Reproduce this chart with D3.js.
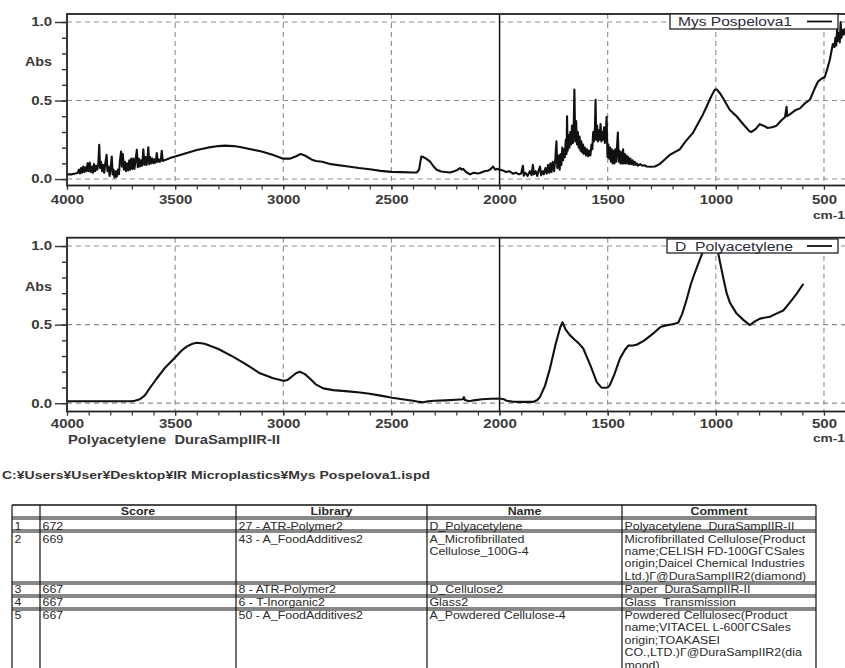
<!DOCTYPE html>
<html><head><meta charset="utf-8">
<script src="https://cdn.jsdelivr.net/npm/d3@7"></script>
<style>
body{margin:0;background:#fff}
svg{display:block;font-family:"Liberation Sans",Arial,sans-serif}
svg text{white-space:pre}
</style></head>
<body><svg id="c" width="845" height="668"></svg>
<script>
// ---------------- data ----------------
const xMajorTicks = [4000, 3500, 3000, 2500, 2000, 1500, 1000, 500];
const xGridTicks = [3500, 3000, 2500, 1500, 1000, 500];
const yMajorTicks = [0, 0.5, 1.0];

const sampleName = "Mys Pospelova1";
const referenceName = "D  Polyacetylene";
const referenceCaption = "Polyacetylene  DuraSampIIR-II";
const filePath = "C:¥Users¥User¥Desktop¥IR Microplastics¥Mys Pospelova1.ispd";

// measured sample spectrum [wavenumber, absorbance]
const sampleSpectrum = [
 [4000,0.03],[3980,0.03],[3960,0.035],[3950,0.04],[3945,0.06],[3940,0.035],[3935,0.07],[3930,0.04],
 [3925,0.08],[3920,0.045],[3915,0.075],[3910,0.05],[3905,0.1],[3900,0.05],[3895,0.105],[3890,0.045],
 [3885,0.08],[3880,0.04],[3875,0.095],[3870,0.05],[3865,0.085],[3860,0.06],[3855,0.1],[3851,0.218],
 [3847,0.07],[3843,0.11],[3838,0.05],[3833,0.09],[3828,0.04],[3823,0.1],[3817,0.155],[3813,0.05],
 [3808,0.08],[3803,0.02],[3798,0.07],[3793,0.144],[3789,0.03],[3785,0.06],[3780,0.01],[3775,0.05],
 [3770,0.015],[3765,0.06],[3760,0.03],[3755,0.12],[3750,0.175],[3746,0.08],[3742,0.16],[3737,0.06],
 [3732,0.11],[3727,0.05],[3722,0.1],[3717,0.055],[3712,0.12],[3708,0.06],[3703,0.13],[3698,0.065],
 [3693,0.13],[3688,0.065],[3683,0.12],[3677,0.186],[3673,0.075],[3668,0.13],[3663,0.08],[3658,0.12],
 [3653,0.085],[3650,0.13],[3647,0.19],[3642,0.09],[3637,0.14],[3632,0.09],[3627,0.15],[3624,0.203],
 [3620,0.095],[3615,0.14],[3610,0.1],[3605,0.13],[3600,0.1],[3595,0.125],[3590,0.105],[3585,0.165],
 [3580,0.11],[3575,0.125],[3570,0.11],[3566,0.12],[3562,0.18],[3557,0.115],[3550,0.12],[3540,0.125],
 [3520,0.135],[3500,0.144],[3450,0.165],[3400,0.185],[3350,0.2],[3300,0.21],[3270,0.213],[3230,0.21],
 [3200,0.204],[3150,0.19],[3100,0.175],[3050,0.155],[3000,0.13],[2970,0.13],[2940,0.145],[2920,0.16],
 [2900,0.15],[2870,0.125],[2850,0.115],[2820,0.11],[2780,0.095],[2700,0.08],[2650,0.07],[2600,0.062],
 [2550,0.052],[2500,0.046],[2450,0.044],[2400,0.042],[2383,0.042],[2372,0.06],[2362,0.144],[2352,0.14],
 [2340,0.13],[2322,0.112],[2305,0.08],[2291,0.059],[2270,0.048],[2250,0.045],[2229,0.042],[2210,0.05],
 [2195,0.058],[2183,0.07],[2175,0.06],[2169,0.065],[2155,0.045],[2137,0.03],[2120,0.04],[2100,0.035],
 [2091,0.038],[2070,0.05],[2050,0.055],[2040,0.065],[2030,0.08],[2020,0.06],[2010,0.065],[2000,0.06],
 [1985,0.055],[1970,0.045],[1955,0.05],[1938,0.034],[1925,0.04],[1910,0.03],[1900,0.035],[1892,0.085],
 [1888,0.022],[1880,0.04],[1870,0.02],[1860,0.05],[1852,0.025],[1846,0.09],[1841,0.03],[1833,0.05],
 [1826,0.02],[1818,0.06],[1813,0.08],[1808,0.025],[1800,0.05],[1795,0.03],[1788,0.07],[1782,0.035],
 [1776,0.09],[1770,0.04],[1765,0.1],[1760,0.045],[1754,0.11],[1748,0.05],[1742,0.13],[1737,0.24],
 [1733,0.07],[1727,0.15],[1722,0.06],[1718,0.16],[1714,0.09],[1710,0.2],[1706,0.12],[1702,0.19],
 [1698,0.14],[1694,0.25],[1690,0.16],[1688,0.4],[1685,0.18],[1681,0.28],[1677,0.2],[1673,0.3],
 [1669,0.22],[1665,0.34],[1661,0.23],[1657,0.35],[1654,0.57],[1650,0.24],[1646,0.37],[1642,0.22],
 [1638,0.3],[1634,0.2],[1630,0.27],[1626,0.18],[1622,0.24],[1618,0.17],[1614,0.22],[1610,0.16],
 [1605,0.2],[1600,0.15],[1595,0.19],[1590,0.145],[1585,0.18],[1580,0.15],[1575,0.22],[1571,0.19],
 [1567,0.3],[1563,0.24],[1559,0.33],[1556,0.505],[1553,0.25],[1549,0.34],[1545,0.24],[1541,0.31],
 [1537,0.25],[1533,0.35],[1529,0.24],[1525,0.3],[1521,0.25],[1517,0.33],[1513,0.23],[1509,0.29],
 [1505,0.396],[1501,0.14],[1497,0.22],[1493,0.13],[1489,0.2],[1485,0.11],[1481,0.19],[1477,0.1],
 [1473,0.18],[1469,0.1],[1465,0.19],[1461,0.11],[1457,0.2],[1453,0.296],[1449,0.11],[1445,0.18],
 [1441,0.1],[1437,0.17],[1433,0.1],[1429,0.19],[1425,0.1],[1421,0.16],[1417,0.1],[1413,0.15],
 [1409,0.1],[1405,0.14],[1400,0.095],[1395,0.13],[1390,0.095],[1385,0.12],[1380,0.09],[1375,0.11],
 [1370,0.09],[1365,0.1],[1360,0.085],[1350,0.095],[1340,0.085],[1330,0.088],[1320,0.08],[1300,0.078],
 [1282,0.08],[1260,0.095],[1240,0.12],[1212,0.155],[1190,0.172],[1166,0.19],[1140,0.24],[1106,0.294],
 [1080,0.36],[1060,0.41],[1043,0.46],[1020,0.53],[1004,0.57],[995,0.57],[980,0.545],[966,0.514],
 [950,0.475],[935,0.44],[920,0.42],[904,0.40],[880,0.36],[858,0.325],[845,0.305],[835,0.3],
 [815,0.32],[797,0.35],[780,0.34],[760,0.325],[740,0.33],[719,0.34],[700,0.37],[680,0.395],
 [673,0.46],[670,0.4],[650,0.42],[630,0.44],[611,0.45],[590,0.48],[565,0.505],[545,0.57],
 [528,0.62],[510,0.64],[496,0.65],[485,0.7],[473,0.76],[459,0.86],[452,0.84],[447,0.9],
 [443,0.85],[439,0.96],[435,0.88],[431,0.93],[427,0.87],[423,1.0],[419,0.9],[414,0.95],[408,0.92],[403,0.96]
];

// library reference spectrum [wavenumber, absorbance]
const referenceSpectrum = [
 [4000,0.012],[3800,0.012],[3700,0.013],[3686,0.015],[3663,0.025],[3640,0.05],[3620,0.09],[3585,0.157],
 [3550,0.22],[3497,0.295],[3470,0.335],[3447,0.36],[3420,0.378],[3400,0.384],[3370,0.38],[3354,0.374],
 [3300,0.345],[3231,0.295],[3170,0.245],[3108,0.19],[3050,0.16],[3000,0.142],[2980,0.148],[2960,0.17],
 [2940,0.192],[2923,0.2],[2900,0.185],[2877,0.157],[2850,0.12],[2815,0.094],[2769,0.083],[2700,0.075],
 [2646,0.068],[2600,0.06],[2550,0.048],[2496,0.034],[2450,0.025],[2400,0.015],[2370,0.008],[2353,0.006],
 [2330,0.012],[2300,0.015],[2250,0.018],[2200,0.022],[2170,0.025],[2165,0.038],[2160,0.02],[2140,0.012],
 [2120,0.018],[2080,0.025],[2040,0.028],[2000,0.03],[1980,0.025],[1967,0.015],[1940,0.01],[1900,0.008],
 [1845,0.008],[1825,0.02],[1813,0.04],[1790,0.11],[1767,0.22],[1740,0.38],[1720,0.48],[1709,0.515],
 [1695,0.47],[1675,0.433],[1650,0.4],[1636,0.384],[1613,0.348],[1580,0.24],[1551,0.136],[1530,0.1],
 [1513,0.098],[1500,0.1],[1490,0.115],[1470,0.18],[1443,0.285],[1420,0.34],[1405,0.366],[1380,0.368],
 [1366,0.372],[1330,0.4],[1289,0.444],[1256,0.485],[1230,0.495],[1200,0.502],[1174,0.512],[1155,0.57],
 [1135,0.66],[1115,0.76],[1097,0.83],[1075,0.91],[1058,0.97],[1042,1.0],[1030,1.03],[1010,1.04],
 [996,1.0],[981,0.9],[966,0.8],[950,0.7],[935,0.64],[904,0.57],[873,0.53],[843,0.497],
 [820,0.52],[796,0.538],[770,0.545],[750,0.55],[720,0.57],[688,0.59],[658,0.64],[626,0.697],[595,0.76]
];

// library search results
const tableHeaders = ["", "Score", "Library", "Name", "Comment"];
const tableRanks = ["1", "2", "3", "4", "5"];
const tableScores = ["672", "669", "667", "667", "667"];
const tableLibraries = ["27 - ATR-Polymer2", "43 - A_FoodAdditives2", "8 - ATR-Polymer2", "6 - T-Inorganic2", "50 - A_FoodAdditives2"];
const tableNames = [["D_Polyacetylene"], ["A_Microfibrillated", "Cellulose_100G-4"], ["D_Cellulose2"], ["Glass2"], ["A_Powdered Cellulose-4"]];
const tableComments = [
 ["Polyacetylene  DuraSampIIR-II"],
 ["Microfibrillated Cellulose(Product", "name;CELISH FD-100GΓCSales", "origin;Daicel Chemical Industries", "Ltd.)Γ@DuraSampIIR2(diamond)"],
 ["Paper  DuraSampIIR-II"],
 ["Glass  Transmission"],
 ["Powdered Cellulosec(Product", "name;VITACEL L-600ΓCSales", "origin;TOAKASEI", "CO.,LTD.)Γ@DuraSampIIR2(dia", "mond)"]
];

// ---------------- drawing ----------------
const svg = d3.select("#c");
const X_LEFT = 67, X_RIGHT = 845.6;
const x = d3.scaleLinear().domain([4000, 400]).range([X_LEFT, X_RIGHT]);
const SX = 1.25;

function stretch(sel, sx) {
  sel.each(function () {
    const t = d3.select(this);
    const xx = +t.attr("x") || 0;
    t.attr("x", xx / sx).attr("transform", `scale(${sx},1)`);
  });
}

function panel(cfg, idx) {
  const y = d3.scaleLinear().domain(cfg.domain).range([cfg.bottom, cfg.top]);
  const g = svg.append("g");
  const clipId = "clip" + idx;
  svg.append("clipPath").attr("id", clipId).append("rect")
    .attr("x", X_LEFT).attr("y", cfg.top).attr("width", X_RIGHT - X_LEFT).attr("height", cfg.bottom - cfg.top);

  // grid
  g.selectAll(".vg").data(xGridTicks).join("line")
    .attr("x1", d => x(d)).attr("x2", d => x(d)).attr("y1", cfg.top).attr("y2", cfg.bottom)
    .attr("stroke", "#8c8c8c").attr("stroke-width", 1.1).attr("stroke-dasharray", "5,4");
  g.selectAll(".hg").data(yMajorTicks).join("line")
    .attr("x1", X_LEFT).attr("x2", X_RIGHT).attr("y1", d => y(d)).attr("y2", d => y(d))
    .attr("stroke", "#8c8c8c").attr("stroke-width", 1.1).attr("stroke-dasharray", "5,4");
  // cursor line at 2000
  g.append("line").attr("x1", x(2000)).attr("x2", x(2000)).attr("y1", cfg.top).attr("y2", cfg.bottom)
    .attr("stroke", "#111").attr("stroke-width", 1.5);

  // spectrum
  const line = d3.line().x(d => x(d[0])).y(d => y(d[1]));
  g.append("path").datum(cfg.data).attr("d", line).attr("fill", "none")
    .attr("stroke", "#111").attr("stroke-width", 2.1).attr("stroke-linejoin", "round")
    .attr("clip-path", `url(#${clipId})`);

  // frame
  g.append("rect").attr("x", X_LEFT).attr("y", cfg.top).attr("width", X_RIGHT - X_LEFT + 4)
    .attr("height", cfg.bottom - cfg.top).attr("fill", "none").attr("stroke", "#222").attr("stroke-width", 1.8);

  // x axis
  const xMinor = d3.range(4000, 399, -100);
  g.append("g").attr("transform", `translate(0,${cfg.bottom})`)
    .call(d3.axisBottom(x).tickValues(xMinor).tickSize(4).tickFormat(""))
    .call(a => a.select(".domain").remove())
    .call(a => a.selectAll("line").attr("stroke", "#333").attr("stroke-width", 1.2));
  const xa = g.append("g").attr("transform", `translate(0,${cfg.bottom})`)
    .call(d3.axisBottom(x).tickValues(xMajorTicks).tickSize(4).tickPadding(cfg.xPad).tickFormat(d3.format("d")))
    .call(a => a.select(".domain").remove());
  xa.selectAll("line").attr("stroke", "#333").attr("stroke-width", 1.2);
  xa.selectAll("text").attr("font-size", 12).attr("font-weight", "bold").attr("fill", "#3a3a3a")
    .attr("font-family", "Liberation Sans, Arial, sans-serif");
  stretch(xa.selectAll("text"), SX);

  // y axis
  g.append("g").attr("transform", `translate(${X_LEFT},0)`)
    .call(d3.axisLeft(y).tickValues(d3.range(0, 1.01, 0.1)).tickSize(5).tickFormat(""))
    .call(a => a.select(".domain").remove())
    .call(a => a.selectAll("line").attr("stroke", "#333").attr("stroke-width", 1.4));
  const ya = g.append("g").attr("transform", `translate(${X_LEFT},0)`)
    .call(d3.axisLeft(y).tickValues(yMajorTicks).tickSize(12).tickPadding(3).tickFormat(d3.format(".1f")))
    .call(a => a.select(".domain").remove());
  ya.selectAll("line").attr("stroke", "#333").attr("stroke-width", 1.4);
  ya.selectAll("text").attr("font-size", 12).attr("font-weight", "bold").attr("fill", "#3a3a3a")
    .attr("font-family", "Liberation Sans, Arial, sans-serif");
  stretch(ya.selectAll("text"), SX);

  // "Abs"
  g.append("text").attr("x", 25).attr("y", cfg.absY).attr("font-size", 12).attr("font-weight", "bold")
    .attr("fill", "#3a3a3a").attr("textLength", 27).attr("lengthAdjust", "spacingAndGlyphs").text("Abs");
  // cm-1
  g.append("text").attr("x", 813).attr("y", cfg.cmY).attr("font-size", 11.5).attr("font-weight", "bold")
    .attr("fill", "#3a3a3a").attr("textLength", 32).attr("lengthAdjust", "spacingAndGlyphs").text("cm-1");

  // legend
  const L = cfg.legend;
  g.append("rect").attr("x", L.x).attr("y", L.y).attr("width", L.w).attr("height", L.h)
    .attr("fill", "#fff").attr("stroke", "#222").attr("stroke-width", 1.3);
  g.append("text").attr("x", L.tx).attr("y", L.y + L.h / 2 + 4.5).attr("font-size", 12.5)
    .attr("fill", "#2b2b3a").attr("textLength", L.tw).attr("lengthAdjust", "spacingAndGlyphs").text(L.text);
  g.append("line").attr("x1", 807).attr("x2", 832).attr("y1", L.y + L.h / 2).attr("y2", L.y + L.h / 2)
    .attr("stroke", "#111").attr("stroke-width", 1.8);
}

panel({
  top: 14, bottom: 185.5, domain: [-0.041, 1.051], data: sampleSpectrum, xPad: 6,
  absY: 66, cmY: 219,
  legend: { x: 670, y: 14, w: 168, h: 15, tx: 678, tw: 114, text: sampleName }
}, 0);
panel({
  top: 237.7, bottom: 411.5, domain: [-0.053, 1.053], data: referenceSpectrum, xPad: 4,
  absY: 291, cmY: 442,
  legend: { x: 667, y: 239, w: 171, h: 14, tx: 675, tw: 118, text: referenceName }
}, 1);

// caption under second chart
svg.append("text").attr("x", 68).attr("y", 443.5).attr("font-size", 12).attr("font-weight", "bold")
  .attr("fill", "#3a3a3a").attr("textLength", 212).attr("lengthAdjust", "spacingAndGlyphs").text(referenceCaption);

// file path
svg.append("text").attr("x", 2).attr("y", 479).attr("font-size", 11.5).attr("font-weight", "bold")
  .attr("fill", "#333").attr("textLength", 428).attr("lengthAdjust", "spacingAndGlyphs").text(filePath);

// ---------------- table ----------------
const colX = [12, 40, 236, 427, 622, 816];
const rowY = [505, 518, 531, 583, 596, 609, 690];
const tg = svg.append("g");
const TSX = 1.18;
for (let c = 0; c < 5; c++) {
  svg.append("clipPath").attr("id", "col" + c).append("rect")
    .attr("x", colX[c] + 1).attr("y", 500).attr("width", colX[c + 1] - colX[c] - 2).attr("height", 200);
}
function cellText(c, lines, baseline, opts = {}) {
  const cg = tg.append("g").attr("clip-path", `url(#col${c})`);
  lines.forEach((s, i) => {
    const tx = opts.center ? (colX[c] + colX[c + 1]) / 2 : colX[c] + 2.5;
    cg.append("text")
      .attr("transform", `translate(${tx},${baseline + i * 12.4}) scale(${TSX},1)`)
      .attr("text-anchor", opts.center ? "middle" : "start")
      .attr("font-size", 10.5).attr("font-weight", opts.bold ? "bold" : "normal")
      .attr("fill", "#2a2a2a").text(s);
  });
}
tableHeaders.forEach((h, c) => { if (h) cellText(c, [h], 515, { center: true, bold: true }); });
const rowBase = [529.5, 542.5, 593, 606, 619];
tableRanks.forEach((r, i) => {
  cellText(0, [r], rowBase[i]);
  cellText(1, [tableScores[i]], rowBase[i]);
  cellText(2, [tableLibraries[i]], rowBase[i]);
  cellText(3, tableNames[i], rowBase[i]);
  cellText(4, tableComments[i], rowBase[i]);
});
tg.selectAll(".tv").data(colX).join("line")
  .attr("x1", d => d).attr("x2", d => d).attr("y1", rowY[0]).attr("y2", 668)
  .attr("stroke", "#111").attr("stroke-width", 1.2);
tg.append("line").attr("x1", colX[0]).attr("x2", colX[5]).attr("y1", rowY[0]).attr("y2", rowY[0])
  .attr("stroke", "#111").attr("stroke-width", 1.3);
rowY.slice(1, 6).forEach(yy => {
  [yy - 1, yy + 1].forEach(v => tg.append("line").attr("x1", colX[0]).attr("x2", colX[5])
    .attr("y1", v).attr("y2", v).attr("stroke", "#111").attr("stroke-width", 1));
});
</script></body></html>
